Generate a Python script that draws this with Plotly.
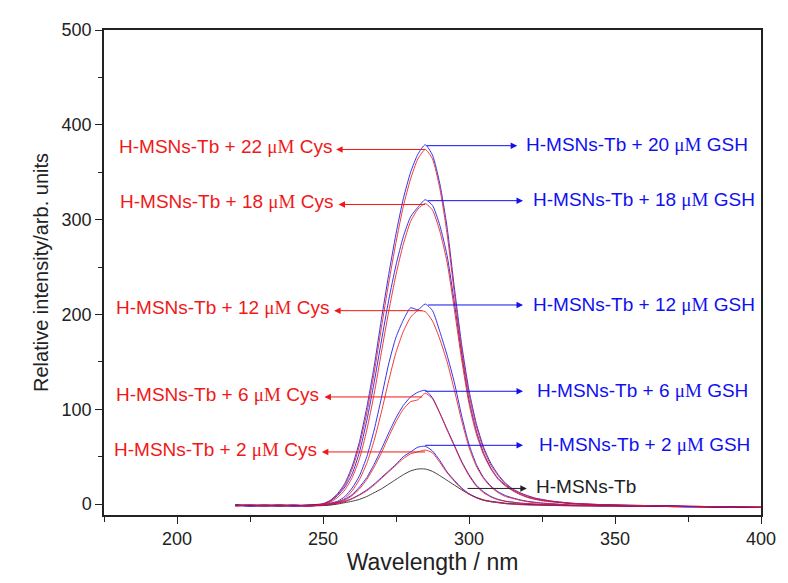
import plotly.graph_objects as go

# ---------------- data ----------------
wavelength = [220, 225, 230, 235, 240, 245,
              250, 252.5, 255, 257.5, 260, 262.5, 265, 267.5, 270, 272.5, 275, 277.5,
              280, 282.5, 285, 287.5, 290, 292.5, 295, 297.5, 300, 302.5, 305, 307.5,
              310, 312.5, 315, 317.5, 320, 322.5, 325, 327.5, 330,
              335, 340, 345, 350, 355, 360, 365, 370, 375, 380, 385, 390, 395, 400]

tb_only = [-1, -2, -1.5, -2, -1.5, -2,
           -1.5, -1, 0, 1.5, 3, 5, 8, 12, 16, 21, 26, 31,
           35, 37, 37, 34.5, 30, 25, 20, 15, 10.5, 7, 4.5, 3,
           2, 1, 0.5, 0, -0.5, -0.5, -1, -1, -1,
           -1.5, -1.5, -2, -2, -2, -2.5, -2, -2.5, -2.5, -3, -3, -3, -3.5, -3.5]

gsh_2 = [-1, -1.5, -2, -1, -2, -1.5,
         -1.5, -0.5, 1, 3, 6, 10, 15, 21, 28, 35, 42, 50,
         55, 60, 61, 56, 46, 34, 25, 17, 11, 7, 4, 2.5,
         1.5, 0.5, 0, -0.5, -0.5, -1, -1, -1, -1.5,
         -1.5, -2, -1.5, -2, -2.5, -2, -2.5, -2.5, -3, -2.5, -3, -3.5, -3, -3.5]

cys_2 = [-2, -1, -1.5, -2, -1, -2,
         -1, -0.5, 1, 2.5, 5.5, 9.5, 14, 20, 27, 34, 41, 48,
         53, 55, 57, 54, 44, 33, 24, 16, 10.5, 6.5, 4, 2.5,
         1.5, 0.5, 0, -0.5, -1, -1, -1, -1.5, -1.5,
         -2, -1.5, -2, -2, -2, -2.5, -2, -3, -2.5, -3, -3, -3, -3.5, -3]

gsh_6 = [-1.5, -2, -1, -1.5, -2, -1.5,
         -1, 0, 2, 5, 10, 18, 28, 42, 58, 75, 91, 104,
         113, 118, 120, 112, 96, 79, 62, 45, 31, 20, 13, 8,
         5, 3, 2, 1, 0.5, 0, -0.5, -1, -1,
         -1.5, -1.5, -2, -1.5, -2, -2.5, -2, -2.5, -3, -2.5, -3, -3, -3.5, -3.5]

cys_6 = [-1, -1.5, -2, -1, -1.5, -2,
         -1, 0, 1.5, 4, 9, 16, 26, 39, 54, 71, 87, 100,
         108, 110, 117, 111, 96, 78, 61, 44, 30, 19, 12, 7.5,
         4.5, 3, 2, 1, 0.5, 0, -0.5, -1, -1,
         -1.5, -2, -1.5, -2, -2, -2, -2.5, -2.5, -2.5, -3, -3, -3.5, -3, -3.5]

gsh_12 = [-1.5, -1, -2, -1.5, -1, -2,
          -0.5, 1, 3, 8, 17, 30, 50, 78, 112, 148, 176, 194,
          207, 205, 211, 204, 182, 157, 128, 93, 63, 42, 28, 19,
          13, 9, 6.5, 4.5, 3, 2, 1, 0.5, 0,
          -1, -1, -1.5, -1.5, -2, -2, -2.5, -2, -2.5, -3, -3, -3, -3.5, -3.5]

cys_12 = [-2, -1.5, -1, -2, -1.5, -1,
          -1, 0.5, 2, 6, 14, 26, 43, 67, 97, 130, 160, 182,
          197, 204, 203, 193, 174, 150, 120, 88, 60, 40, 27, 18,
          12, 8, 6, 4, 2.5, 1.5, 1, 0.5, 0,
          -1, -1.5, -1, -1.5, -2, -2, -2, -2.5, -2.5, -2.5, -3, -3, -3, -3.5]

gsh_18 = [-1, -2, -1.5, -1, -2, -1,
          0, 3, 9, 18, 32, 55, 88, 128, 172, 215, 252, 282,
          303, 313, 321, 315, 294, 262, 212, 158, 110, 77, 54, 38,
          27, 20, 14.5, 10.5, 7.5, 5.5, 4, 3, 2,
          0.5, 0, -0.5, -1, -1.5, -1.5, -2, -2, -2.5, -2.5, -3, -3, -3.5, -3.5]

cys_18 = [-1.5, -1, -2, -1.5, -1, -2,
          -0.5, 2, 7, 15, 28, 48, 78, 116, 160, 203, 242, 274,
          298, 311, 317, 310, 288, 255, 205, 152, 106, 74, 52, 37,
          26, 19, 14, 10, 7, 5, 3.5, 2.5, 2,
          0.5, 0, -1, -1, -1.5, -2, -1.5, -2, -2.5, -3, -2.5, -3, -3, -3.5]

gsh_20 = [-1, -1.5, -1, -2, -1.5, -1,
          0.5, 4, 11, 22, 40, 66, 102, 145, 195, 242, 285, 322,
          350, 369, 379, 368, 338, 292, 228, 168, 120, 85, 60, 43,
          31, 22, 16, 12, 9, 6.5, 5, 3.5, 2.5,
          1, 0, -0.5, -1, -1, -1.5, -2, -2, -2.5, -2.5, -3, -3, -3.5, -3.5]

cys_22 = [-2, -1, -1.5, -1, -2, -1.5,
          0, 3.5, 10, 20, 37, 62, 96, 138, 186, 233, 276, 314,
          343, 364, 374, 364, 333, 285, 222, 162, 116, 82, 58, 41,
          30, 21, 15.5, 11.5, 8.5, 6, 4.5, 3.5, 2.5,
          1, 0, -0.5, -1, -1.5, -1.5, -2, -2.5, -2, -2.5, -3, -3, -3, -3.5]

series_names = ["H-MSNs-Tb",
                "H-MSNs-Tb + 2 μM GSH", "H-MSNs-Tb + 2 μM Cys",
                "H-MSNs-Tb + 6 μM GSH", "H-MSNs-Tb + 6 μM Cys",
                "H-MSNs-Tb + 12 μM GSH", "H-MSNs-Tb + 12 μM Cys",
                "H-MSNs-Tb + 18 μM GSH", "H-MSNs-Tb + 18 μM Cys",
                "H-MSNs-Tb + 20 μM GSH", "H-MSNs-Tb + 22 μM Cys"]
series_values = [tb_only, gsh_2, cys_2, gsh_6, cys_6, gsh_12, cys_12,
                 gsh_18, cys_18, gsh_20, cys_22]

# label rows: (concentration, level of the arrow)
cys_labels = [("22", 374), ("18", 316), ("12", 204), ("6", 113), ("2", 55)]
gsh_labels = [("20", 378), ("18", 320), ("12", 210), ("6", 119), ("2", 62)]
tb_label = ("H-MSNs-Tb", 16.5)

# ---------------- styling ----------------
RED = "#f01818"
BLUE = "#1010f0"
BLACK = "#222222"
series_colors = [BLACK, BLUE, RED, BLUE, RED, BLUE, RED, BLUE, RED, BLUE, RED]

fig = go.Figure()
for name, vals, col in zip(series_names, series_values, series_colors):
    fig.add_trace(go.Scatter(x=wavelength, y=vals, mode="lines", name=name,
                             line=dict(color=col, width=1, shape="spline", smoothing=0.6),
                             opacity=0.85, showlegend=False))

FONT = "Liberation Sans, Arial, sans-serif"
MU = '<span style="font-family:Liberation Serif, Times New Roman, serif">μM</span>'
LBL = 19

annotations = []
# Cys: arrow pointing left, text to the left of the arrowhead
cys_head_x = [254.5, 255.3, 253.8, 250.5, 249.6]
cys_text_x = [253.6, 254.0, 252.8, 249.2, 248.6]
cys_tail_x = [285.5, 285.5, 284.5, 284.5, 285.5]
for (conc, lvl), hx, tx, ax in zip(cys_labels, cys_head_x, cys_text_x, cys_tail_x):
    annotations.append(dict(x=hx, y=lvl, ax=ax, ay=lvl, xref="x", yref="y",
                            axref="x", ayref="y", text="", showarrow=True,
                            arrowhead=2, arrowsize=1.3, arrowwidth=1, arrowcolor=RED))
    annotations.append(dict(x=tx, y=lvl + 3, xref="x", yref="y", showarrow=False,
                            xanchor="right", yanchor="middle",
                            text=f"H-MSNs-Tb + {conc} {MU} Cys",
                            font=dict(family=FONT, size=LBL, color=RED)))

gsh_head_x = [316.5, 318.5, 318.5, 318.5, 318.5]
gsh_text_x = [318.8, 321.4, 321.4, 322.5, 323.4]
gsh_tail_x = [285.0, 285.5, 285.5, 284.5, 284.5]
for (conc, lvl), hx, tx, ax in zip(gsh_labels, gsh_head_x, gsh_text_x, gsh_tail_x):
    annotations.append(dict(x=hx, y=lvl, ax=ax, ay=lvl, xref="x", yref="y",
                            axref="x", ayref="y", text="", showarrow=True,
                            arrowhead=2, arrowsize=1.3, arrowwidth=1, arrowcolor=BLUE))
    annotations.append(dict(x=tx, y=lvl + 1, xref="x", yref="y", showarrow=False,
                            xanchor="left", yanchor="middle",
                            text=f"H-MSNs-Tb + {conc} {MU} GSH",
                            font=dict(family=FONT, size=LBL, color=BLUE)))

annotations.append(dict(x=319.8, y=tb_label[1], ax=299.0, ay=tb_label[1], xref="x", yref="y",
                        axref="x", ayref="y", text="", showarrow=True,
                        arrowhead=2, arrowsize=1.3, arrowwidth=1, arrowcolor=BLACK))
annotations.append(dict(x=322.3, y=tb_label[1] + 2, xref="x", yref="y", showarrow=False,
                        xanchor="left", yanchor="middle", text=tb_label[0],
                        font=dict(family=FONT, size=LBL, color=BLACK)))

# the page body has an 8px margin, so the figure is sized to sit inside the window
fig.update_layout(
    width=780, height=575,
    margin=dict(l=96, r=18, t=12, b=67),
    paper_bgcolor="white", plot_bgcolor="white",
    font=dict(family=FONT, size=18, color=BLACK),
    annotations=annotations,
    xaxis=dict(range=[175, 400], dtick=50, tick0=200, ticks="outside", ticklen=7,
               tickwidth=1, tickcolor=BLACK, showline=True, linecolor=BLACK, linewidth=1.5,
               mirror=True, showgrid=False, zeroline=False,
               minor=dict(dtick=25, tick0=175, ticks="outside", ticklen=5, tickcolor=BLACK),
               title=dict(text="Wavelength / nm", font=dict(size=23, family=FONT), standoff=6),
               tickfont=dict(size=18, family=FONT)),
    yaxis=dict(range=[-11.5, 500], dtick=100, tick0=0, ticks="outside", ticklen=7,
               tickwidth=1, tickcolor=BLACK, showline=True, linecolor=BLACK, linewidth=1.5,
               mirror=True, showgrid=False, zeroline=False,
               minor=dict(dtick=50, tick0=0, ticks="outside", ticklen=4, tickcolor=BLACK),
               title=dict(text="Relative intensity/arb. units", font=dict(size=20, family=FONT),
                          standoff=8),
               tickfont=dict(size=18, family=FONT)),
)

fig.write_html("out.html")
